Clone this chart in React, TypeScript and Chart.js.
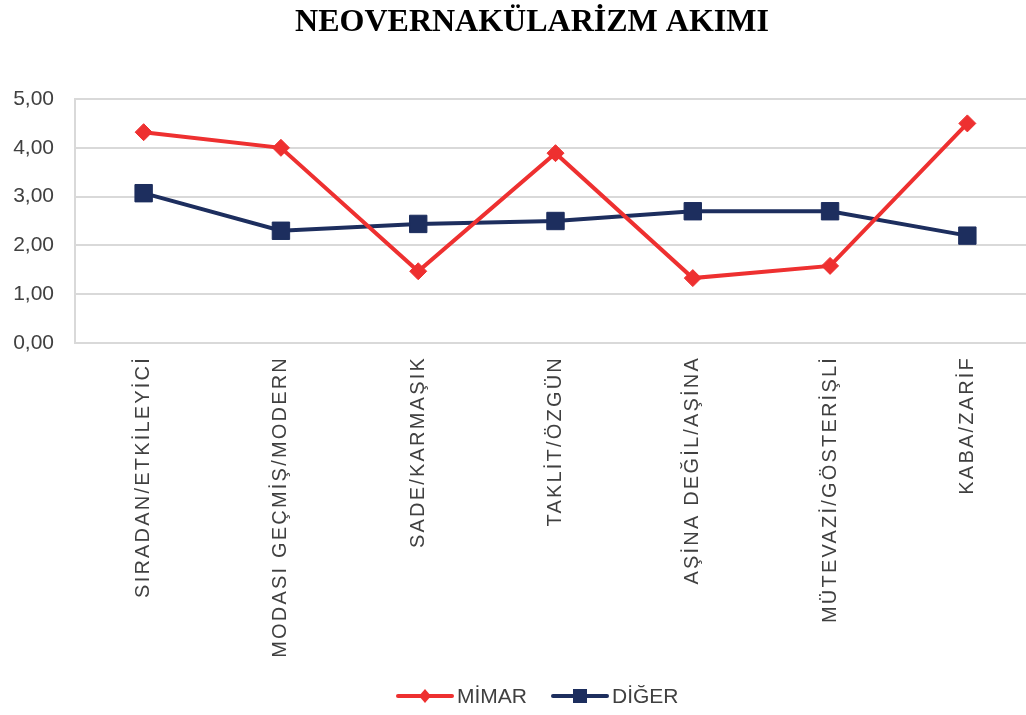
import React, { useEffect, useRef } from "react";
import { Chart, registerables, CategoryScale } from "chart.js";

Chart.register(...registerables);

class SpacedCategoryScale extends CategoryScale {
  static id = "spacedCategory";
  drawLabels(area: any) {
    const ctx: any = this.ctx;
    ctx.save();
    ctx.letterSpacing = "2.2px";
    super.drawLabels(area);
    ctx.restore();
  }
}
Chart.register(SpacedCategoryScale as any);

const TITLE = "NEOVERNAKÜLARİZM AKIMI";
const categories = [
  "SIRADAN/ETKİLEYİCİ",
  "MODASI GEÇMİŞ/MODERN",
  "SADE/KARMAŞIK",
  "TAKLİT/ÖZGÜN",
  "AŞİNA DEĞİL/AŞİNA",
  "MÜTEVAZİ/GÖSTERİŞLİ",
  "KABA/ZARİF",
];
const seriesNames = ["MİMAR", "DİĞER"];
const mimar = [4.32, 4.0, 1.47, 3.89, 1.33, 1.58, 4.5];
const diger = [3.07, 2.3, 2.44, 2.5, 2.7, 2.7, 2.2];
const yTicks = [0, 1, 2, 3, 4, 5];

const RED = "#EE3030";
const NAVY = "#1D2E5E";
const TEXT = "#404040";
const GRID = "#D9D9D9";

// The reference plot area runs past the right edge of the picture.
const PLOT_RIGHT = 1036;

const extendPlugin = {
  id: "extendRight",
  afterLayout(chart: any) {
    const extra = PLOT_RIGHT - chart.chartArea.right;
    if (extra === 0) return;
    chart.chartArea.right += extra;
    chart.chartArea.width += extra;
    const xs = chart.scales.x;
    xs.right += extra;
    xs.width += extra;
    xs.configure();
  },
};

const overlayPlugin = {
  id: "overlay",
  afterDraw(chart: any) {
    const ctx = chart.ctx;
    ctx.save();
    // title
    ctx.fillStyle = "#000";
    ctx.font = "bold 32px 'Liberation Serif', 'Times New Roman', serif";
    ctx.textAlign = "center";
    ctx.textBaseline = "middle";
    ctx.fillText(TITLE, 532, 23);

    // legend
    const items = [
      { name: seriesNames[0], color: RED, style: "diamond", x: 398 },
      { name: seriesNames[1], color: NAVY, style: "square", x: 553 },
    ];
    const ly = 696;
    ctx.font = "21px 'Liberation Sans', Arial, sans-serif";
    ctx.textAlign = "left";
    ctx.textBaseline = "middle";
    for (const it of items) {
      ctx.strokeStyle = it.color;
      ctx.lineWidth = 4;
      ctx.lineCap = "round";
      ctx.beginPath();
      ctx.moveTo(it.x, ly);
      ctx.lineTo(it.x + 54, ly);
      ctx.stroke();
      const cx = it.x + 27;
      ctx.fillStyle = it.color;
      ctx.beginPath();
      if (it.style === "diamond") {
        ctx.moveTo(cx, ly - 7);
        ctx.lineTo(cx + 6, ly);
        ctx.lineTo(cx, ly + 7);
        ctx.lineTo(cx - 6, ly);
        ctx.closePath();
      } else {
        ctx.rect(cx - 7, ly - 7, 14, 14);
      }
      ctx.fill();
      ctx.fillStyle = TEXT;
      ctx.fillText(it.name, it.x + 59, ly + 1);
    }
    ctx.restore();
  },
};

export default function App() {
  const canvasRef = useRef<HTMLCanvasElement | null>(null);

  useEffect(() => {
    document.body.style.margin = "0";
    const canvas = canvasRef.current;
    if (!canvas) return;
    const chart = new Chart(canvas, {
      type: "line",
      data: {
        labels: categories,
        datasets: [
          {
            label: seriesNames[0],
            data: mimar,
            borderColor: RED,
            backgroundColor: RED,
            borderWidth: 4,
            pointStyle: "rectRot",
            pointRadius: 8.5,
            pointBorderWidth: 1,
            pointBackgroundColor: RED,
            pointBorderColor: RED,
            tension: 0,
          },
          {
            label: seriesNames[1],
            data: diger,
            borderColor: NAVY,
            backgroundColor: NAVY,
            borderWidth: 4,
            pointStyle: "rect",
            pointRadius: 12.3,
            pointBorderWidth: 1,
            pointBackgroundColor: NAVY,
            pointBorderColor: NAVY,
            tension: 0,
          },
        ],
      },
      options: {
        animation: false,
        responsive: false,
        maintainAspectRatio: false,
        layout: { autoPadding: false, padding: { top: 99, right: 0, left: 0, bottom: 0 } },
        plugins: {
          legend: { display: false },
          title: { display: false },
          tooltip: { enabled: false },
        },
        scales: {
          x: {
            type: "spacedCategory" as any,
            offset: true,
            grid: { display: false, drawTicks: false },
            border: { display: false },
            ticks: {
              autoSkip: false,
              minRotation: 90,
              maxRotation: 90,
              padding: 13,
              color: TEXT,
              font: { family: "'Liberation Sans', Arial, sans-serif", size: 20 },
            },
            afterFit: (scale: any) => {
              scale.height = 715 - 343;
              scale.paddingLeft = 0;
              scale.paddingRight = 0;
            },
          },
          y: {
            min: 0,
            max: 5,
            afterBuildTicks: (scale: any) => {
              scale.ticks = yTicks.map((v) => ({ value: v }));
            },
            grid: { color: GRID, lineWidth: 2, drawTicks: false },
            border: { display: true, color: GRID, width: 2 },
            ticks: {
              padding: 21,
              color: TEXT,
              font: { family: "'Liberation Sans', Arial, sans-serif", size: 21 },
              callback: (v: any) => Number(v).toFixed(2).replace(".", ","),
            },
            afterFit: (scale: any) => {
              scale.width = 75;
            },
          },
        },
      },
      plugins: [extendPlugin, overlayPlugin],
    });
    return () => chart.destroy();
  }, []);

  return <canvas ref={canvasRef} width={1026} height={715} style={{ display: "block" }} />;
}
